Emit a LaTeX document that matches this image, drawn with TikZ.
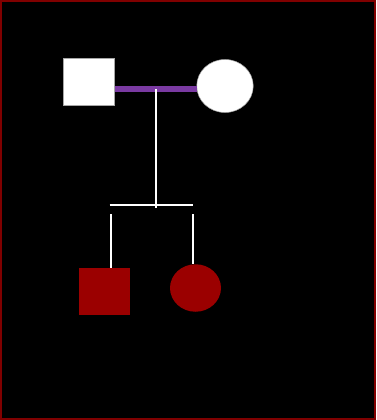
\documentclass[tikz,border=0pt]{standalone}
\usetikzlibrary{shapes.geometric}
\definecolor{frame}{HTML}{800000}
\definecolor{couple}{HTML}{7A3AA2}
\definecolor{affected}{HTML}{9B0000}
\tikzset{
  person/.style={inner sep=0pt, outer sep=0pt},
  male/.style={person, rectangle, minimum width=51pt, minimum height=47pt},
  female/.style={person, ellipse, draw=none},
  unaff/.style={fill=white, draw=gray!70, line width=0.5pt},
  aff/.style={fill=affected, draw=none},
  link/.style={white, line width=2pt},
  partner/.style={couple, line width=6pt}
}
\begin{document}
\begin{tikzpicture}[x=1pt,y=-1pt]
  \useasboundingbox (0,0) rectangle (376,420);
  \fill[black] (0,0) rectangle (376,420);
  \draw[frame, line width=2pt] (1,1) rectangle (375,419);

  % parents
  \node[male, unaff] (father) at (89,82) {};
  \node[female, unaff, minimum width=56.5pt, minimum height=53pt] (mother) at (225,86) {};
  \coordinate (mid) at (156,89);
  \draw[partner] (father.east |- mid) -- (mother.west |- mid);

  % descent line and sibship bar
  \coordinate (barL) at (109.5,205);
  \coordinate (barR) at (192.5,205);
  \coordinate (barEnd) at (156,207.5);
  \draw[link] (mid) -- (barEnd);
  \draw[link] (barL) -- (barR);

  % children
  \node[male, aff, minimum width=50.5pt] (son) at (104.5,291.5) {};
  \node[female, aff, minimum width=51pt, minimum height=47.5pt] (daughter) at (195.5,288) {};
  \coordinate (sonTop) at (110.5,214);
  \coordinate (daughterTop) at (192.5,214);
  \draw[link] (sonTop) -- (sonTop |- son.north);
  \draw[link] (daughterTop) -- (daughterTop |- daughter.north);
\end{tikzpicture}
\end{document}
